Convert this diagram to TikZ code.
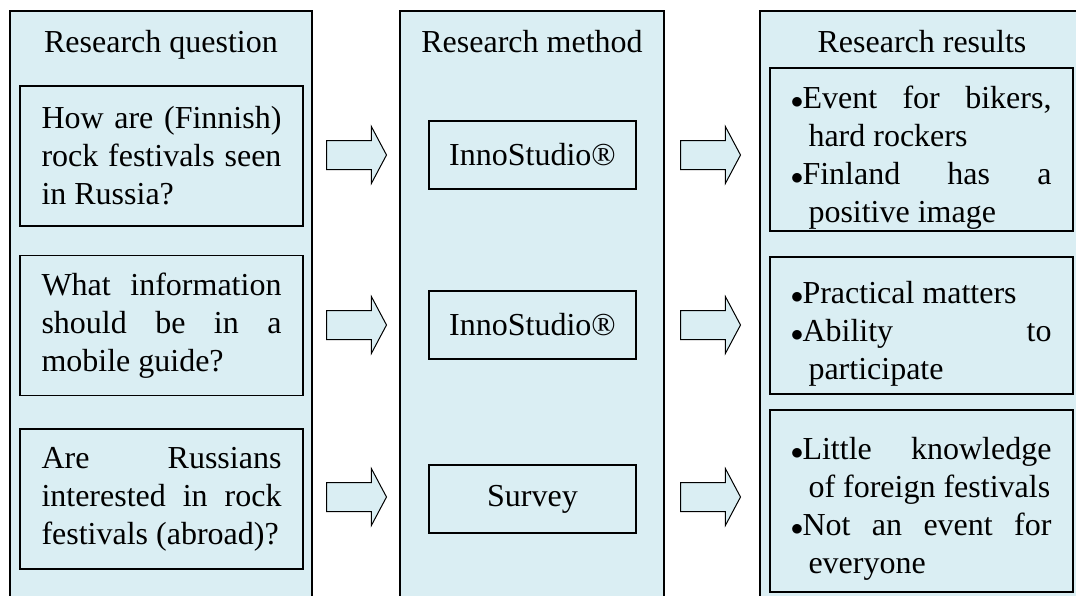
\documentclass[tikz,border=0pt]{standalone}
\usepackage{fontspec}
\setmainfont{Liberation Serif}
\usetikzlibrary{shapes.arrows}
\definecolor{paleblue}{HTML}{DAEEF3}
\tikzset{
  column/.style={draw,fill=paleblue,line width=1.4pt},
  qbox/.style={draw,fill=paleblue,line width=1.4pt,inner sep=0pt,
    minimum width=283pt,minimum height=140pt,text width=240pt,align=justify},
  mbox/.style={draw,fill=paleblue,line width=1.4pt,inner sep=0pt,
    minimum width=207pt,minimum height=68pt,align=center},
  rbox/.style={draw,fill=paleblue,line width=1.4pt,inner sep=0pt,
    minimum width=303pt,text width=260pt,align=justify},
  blockarrow/.style={shape=single arrow,draw,fill=paleblue,line width=1pt,
    inner xsep=0pt,inner ysep=14pt,minimum height=60pt,
    single arrow head extend=14pt,single arrow tip angle=124,
    single arrow head indent=0pt,anchor=tail},
}
\newcommand{\bul}{\par\noindent\hangindent=17pt\hangafter=1\makebox[11pt][c]{$\bullet$}}

\begin{document}
\begin{tikzpicture}[x=1pt,y=-1pt,font=\fontsize{32}{38}\selectfont]
      \useasboundingbox (0,0) rectangle (1076,595);
      % the three columns
      \draw[column] (10,11) rectangle (312,605);
      \draw[column] (400,11) rectangle (664,605);
      \draw[column] (760,11) rectangle (1084,605);
      \node[anchor=base] (hq) at (161,52) {Research question};
      \node[anchor=base] (hm) at (532,52) {Research method};
      \node[anchor=base] (hr) at (922,52) {Research results};
      % questions
      \node[qbox] (q1) at (161.5,156) {\hyphenpenalty=10000 How are (Finnish)\linebreak rock festivals seen\linebreak in Russia?};
      \node[qbox] (q2) at (161.5,325.5) {\hyphenpenalty=10000 What information\linebreak should be in a\linebreak mobile guide?};
      \node[qbox] (q3) at (161.5,499) {\hyphenpenalty=10000 Are Russians\linebreak interested in rock\linebreak festivals (abroad)?};
      % methods
      \node[mbox] (m1) at (532.5,155) {InnoStudio®};
      \node[mbox] (m2) at (532.5,325) {InnoStudio®};
      \node[mbox] (m3) at (532.5,499) {Survey};
      % results
      \node[rbox,minimum height=163pt] (r1) at (921.5,149.5) {\hyphenpenalty=10000
        \bul Event for bikers,\linebreak hard rockers
        \bul Finland has a\linebreak positive image\par};
      \node[rbox,minimum height=137pt] (r2) at (921.5,325.5) {\hyphenpenalty=10000
        \bul Practical matters
        \bul Ability to\linebreak participate\par};
      \node[rbox,minimum height=182pt] (r3) at (921.5,501) {\hyphenpenalty=10000
        \bul Little knowledge\linebreak of foreign festivals
        \bul Not an event for\linebreak everyone\par};
      % arrows
      \node[blockarrow] (a1) at (326,155) {};
      \node[blockarrow] (a2) at (326,325) {};
      \node[blockarrow] (a3) at (326,497) {};
      \node[blockarrow] (b1) at (680,155) {};
      \node[blockarrow] (b2) at (680,325) {};
      \node[blockarrow] (b3) at (680,497) {};
    \end{tikzpicture}
\end{document}
